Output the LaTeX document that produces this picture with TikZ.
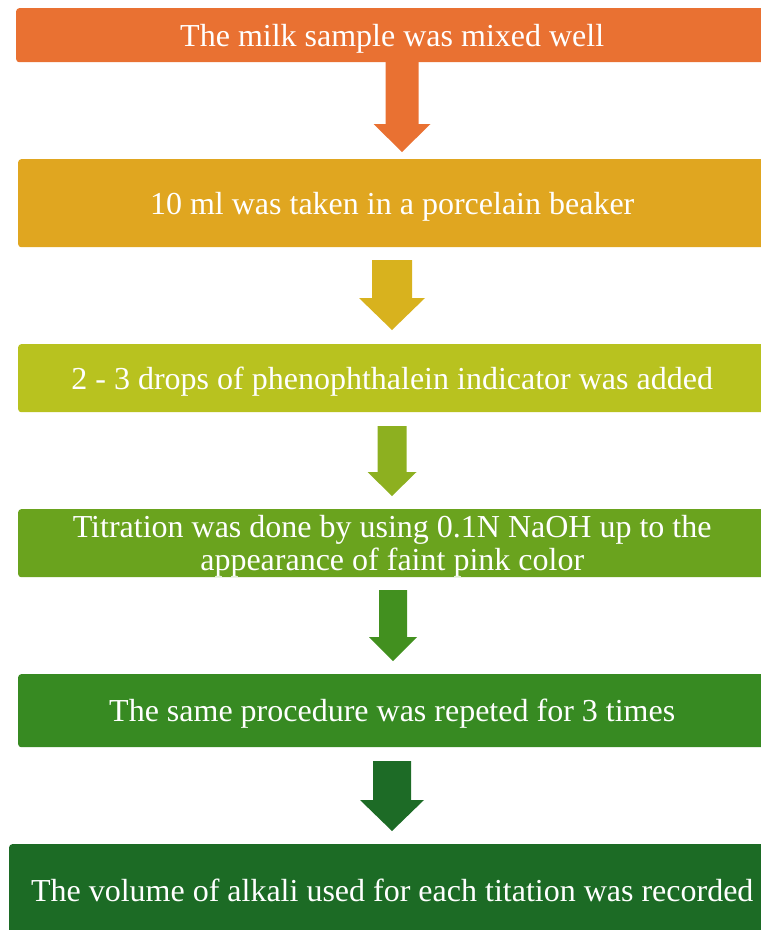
\documentclass[tikz,border=0pt]{standalone}
\usepackage{fontspec}
\setmainfont{Liberation Serif}
\definecolor{bxA}{HTML}{E97132}
\definecolor{bxB}{HTML}{E0A620}
\definecolor{bxC}{HTML}{B8C21F}
\definecolor{bxD}{HTML}{6AA31E}
\definecolor{bxE}{HTML}{378A22}
\definecolor{bxF}{HTML}{1C6B25}
\definecolor{arA}{HTML}{E97132}
\definecolor{arB}{HTML}{D8B21E}
\definecolor{arC}{HTML}{8DB020}
\definecolor{arD}{HTML}{42901F}
\definecolor{arE}{HTML}{1D6B26}
\newcommand\blockarr[7]{% colour, cx, top, head start, tip, shaft half, head half
  \fill[#1] (#2-#6,#3) -- (#2+#6,#3) -- (#2+#6,#4) -- (#2+#7,#4) -- (#2,#5)
    -- (#2-#7,#4) -- (#2-#6,#4) -- cycle;}
\begin{document}
\begin{tikzpicture}[x=1pt,y=-1pt,
  box/.style={rounded corners=3pt, text=white, font=\fontsize{32}{33}\selectfont,
    align=center, inner sep=0pt, anchor=north west, text depth=0pt}]
\useasboundingbox (0,0) rectangle (761,930);
\node[box, fill=bxA, minimum width=752pt, minimum height=54pt] (b1) at (16,8) {The milk sample was mixed well};
\node[box, fill=bxB, minimum width=748pt, minimum height=88pt] (b2) at (18,159) {10 ml was taken in a porcelain beaker};
\node[box, fill=bxC, minimum width=748pt, minimum height=68pt] (b3) at (18,344) {2 - 3 drops of phenophthalein indicator was added};
\node[box, fill=bxD, minimum width=748pt, minimum height=68pt] (b4) at (18,509) {Titration was done by using 0.1N NaOH up to the\\appearance of faint pink color};
\node[box, fill=bxE, minimum width=748pt, minimum height=73pt] (b5) at (18,674) {The same procedure was repeted for 3 times};
\node[box, fill=bxF, minimum width=766pt, minimum height=92pt] (b6) at (9,844) {The volume of alkali used for each titation was recorded};
\blockarr{arA}{402}{61}{124}{152}{16.5}{28.5}
\blockarr{arB}{392}{260}{298}{330}{20}{33}
\blockarr{arC}{392}{426}{472}{496}{14.5}{24.5}
\blockarr{arD}{393}{590}{637}{661}{14}{24}
\blockarr{arE}{392}{761}{800}{831}{19}{32}
\end{tikzpicture}
\end{document}
